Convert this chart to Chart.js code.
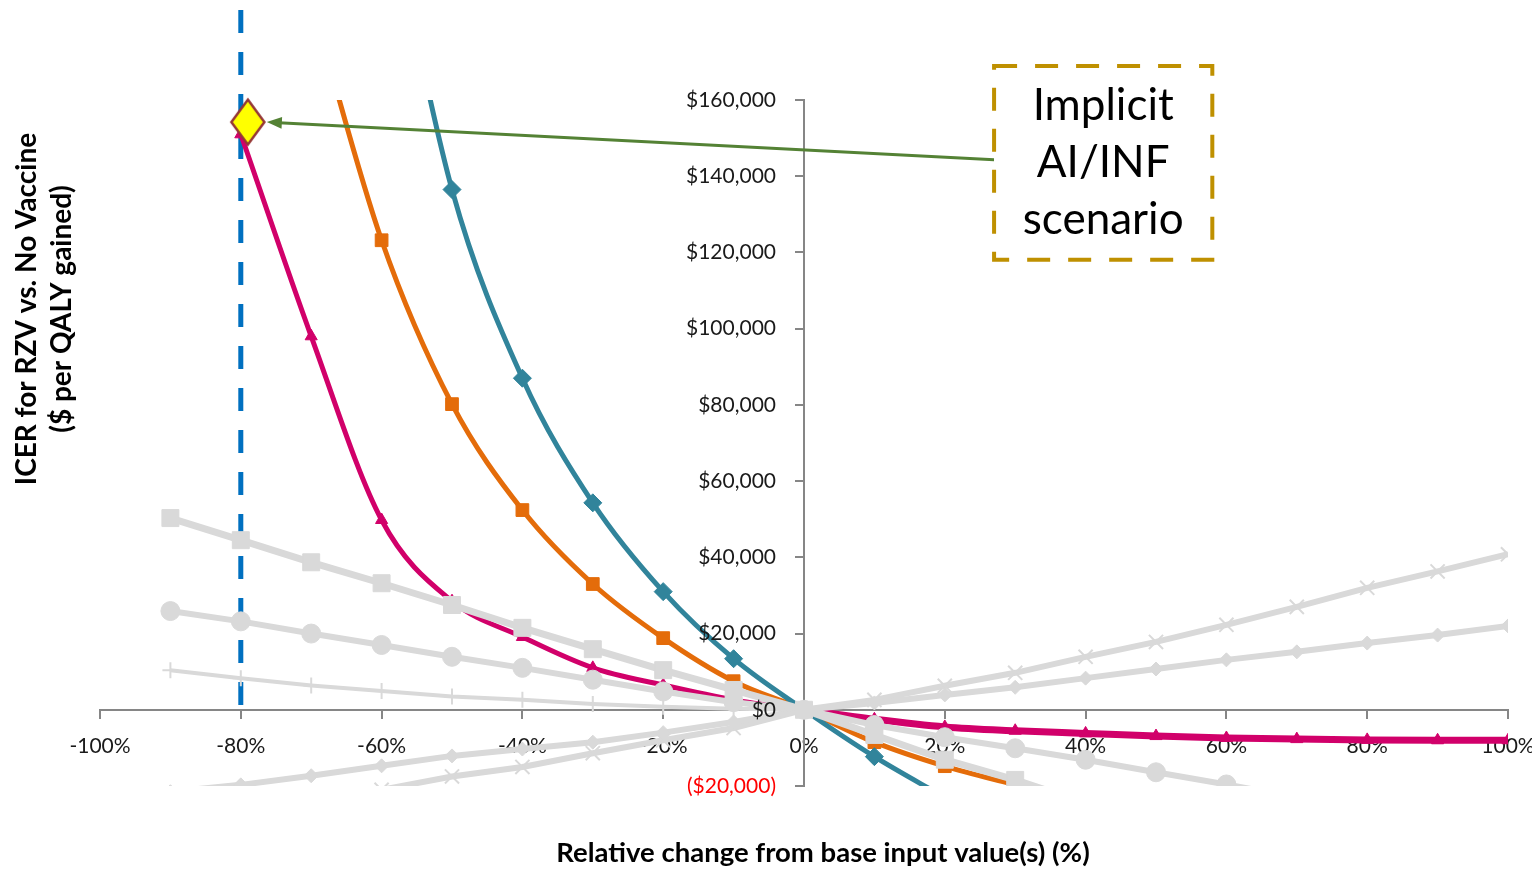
<!DOCTYPE html>
<html>
<head>
<meta charset="utf-8">
<title>ICER sensitivity</title>
<script src="https://cdn.jsdelivr.net/npm/chart.js@4.4.1/dist/chart.umd.min.js"></script>
<style>
  html, body { margin: 0; padding: 0; background: #fff; }
  #wrap { position: relative; width: 1532px; height: 869px; }
</style>
</head>
<body>
<div id="wrap"><canvas id="icerChart"></canvas></div>
<script>
// Relative change (%) for every series point
const changePct = [-90, -80, -70, -60, -50, -40, -30, -20, -10, 0, 10, 20, 30, 40, 50, 60, 70, 80, 90, 100];

// Coloured (smoothed) series, ICER in $ per QALY
const magentaIcer = [null, 151000, 98000, 49800, 28500, 19100, 11000, 6500, 2600, 0, -2500, -4500, -5500, -6200, -6900, -7400, -7700, -7900, -8000, -8000];
const orangeIcer  = [null, null, 186000, 123200, 80200, 52400, 33000, 18800, 7500, 0, -8500, -14800, -19700, -24500, null, null, null, null, null, null];
const tealIcer    = [null, null, null, 220000, 136500, 87000, 54300, 31000, 13400, 0, -12300, -23000, null, null, null, null, null, null, null, null];

// Grey (straight) series
const graySquareIcer  = [50300, 44500, 38700, 33200, 27500, 21500, 15900, 10400, 5200, 0, -6600, -13100, -18400, -24500, null, null, null, null, null, null];
const grayCircleIcer  = [25900, 23200, 20000, 17000, 13900, 11000, 7900, 4800, 2000, 0, -4000, -7200, -10100, -13100, -16400, -19600, -23000, null, null, null];
const grayPlusIcer    = [10400, 8300, 6400, 4900, 3500, 2600, 1500, 800, 300, 0, null, null, null, null, null, null, null, null, null, null];
const grayDiamondIcer = [-21500, -19700, -17300, -14700, -12100, -10300, -8500, -6000, -3200, 0, 1800, 3900, 5900, 8300, 10700, 13100, 15200, 17500, 19600, 22000];
const grayCrossIcer   = [null, null, null, -21000, -17500, -15000, -11400, -8000, -4800, 0, 2600, 6300, 9700, 13900, 17800, 22300, 27000, 32000, 36300, 40800];

// Implicit AI/INF scenario point and the -80% reference line
const implicitPct = [-79];
const implicitIcer = [154200];
const refLinePct = [-80, -80];
const refLineIcer = [183600, 0];

// Axis ticks
const xTickMin = -100, xTickMax = 100, xTickStep = 20;
const yTickMin = -20000, yTickMax = 160000, yTickStep = 20000;

// Callout (data units)
const calloutLines = ['Implicit', 'AI/INF', 'scenario'];
const calloutBox = { x0: 27.0, x1: 58.0, y0: 168900, y1: 118100 };
const arrowFrom = { x: 27.0, y: 144300 };
const arrowTo = { x: -76.3, y: 154200 };

const FONT = 'Lato, "Open Sans", sans-serif';
const GRAY = '#d9d9d9';

const toPoints = (xs, ys) => xs.map((x, i) => ({ x: x, y: ys[i] }));

const fmtDollar = (v) => v < 0
    ? '($' + Math.abs(v).toLocaleString('en-US') + ')'
    : '$' + v.toLocaleString('en-US');

function makeDiamond(w, h, fill, stroke, lw) {
    const c = document.createElement('canvas');
    c.width = w + lw * 2;
    c.height = h + lw * 2;
    const g = c.getContext('2d');
    const cx = c.width / 2, cy = c.height / 2;
    g.beginPath();
    g.moveTo(cx, lw);
    g.lineTo(c.width - lw, cy);
    g.lineTo(cx, c.height - lw);
    g.lineTo(lw, cy);
    g.closePath();
    g.fillStyle = fill;
    g.fill();
    g.lineWidth = lw;
    g.strokeStyle = stroke;
    g.stroke();
    return c;
}

function grayLine(label, data, style, radius, width, pointWidth) {
    return {
        label: label,
        data: toPoints(changePct, data),
        borderColor: GRAY,
        backgroundColor: GRAY,
        borderWidth: width,
        pointStyle: style,
        pointRadius: radius,
        pointBackgroundColor: GRAY,
        pointBorderColor: GRAY,
        pointBorderWidth: pointWidth,
        tension: 0,
        order: 1
    };
}

function colorLine(label, data, color, style, radius, width) {
    return {
        label: label,
        data: toPoints(changePct, data),
        borderColor: color,
        backgroundColor: color,
        borderWidth: width,
        pointStyle: style,
        pointRadius: radius,
        pointBackgroundColor: color,
        pointBorderColor: color,
        pointBorderWidth: 1,
        cubicInterpolationMode: 'monotone',
        order: 2
    };
}

// y tick labels (left of the centred axis), axis titles, callout box and arrow
const decorPlugin = {
    id: 'decor',
    afterDraw(chart) {
        const { ctx, scales: { x, y } } = chart;
        ctx.save();

        // y tick labels
        const axisX = x.getPixelForValue(0);
        ctx.font = '21px ' + FONT;
        ctx.textAlign = 'right';
        ctx.textBaseline = 'middle';
        y.ticks.forEach((t) => {
            ctx.fillStyle = t.value < 0 ? '#ff0000' : '#1a1a1a';
            ctx.fillText(fmtDollar(t.value), axisX - 28, y.getPixelForValue(t.value));
        });

        // y axis title (two lines, rotated)
        ctx.fillStyle = '#000';
        ctx.textAlign = 'center';
        ctx.font = 'bold 28px ' + FONT;
        ctx.save();
        ctx.translate(27, 309);
        ctx.rotate(-Math.PI / 2);
        ctx.fillText('ICER for RZV vs. No Vaccine', 0, 0);
        ctx.fillText('($ per QALY gained)', 0, 35);
        ctx.restore();

        // x axis title
        ctx.font = 'bold 27.5px ' + FONT;
        ctx.fillText('Relative change from base input value(s) (%)', 823, 853);

        // arrow
        const ax0 = x.getPixelForValue(arrowFrom.x), ay0 = y.getPixelForValue(arrowFrom.y);
        const ax1 = x.getPixelForValue(arrowTo.x), ay1 = y.getPixelForValue(arrowTo.y);
        const ang = Math.atan2(ay1 - ay0, ax1 - ax0);
        const head = 15;
        ctx.strokeStyle = '#548235';
        ctx.fillStyle = '#548235';
        ctx.lineWidth = 3;
        ctx.beginPath();
        ctx.moveTo(ax0, ay0);
        ctx.lineTo(ax1 - Math.cos(ang) * head * 0.8, ay1 - Math.sin(ang) * head * 0.8);
        ctx.stroke();
        ctx.beginPath();
        ctx.moveTo(ax1, ay1);
        ctx.lineTo(ax1 - Math.cos(ang) * head - Math.sin(ang) * 6, ay1 - Math.sin(ang) * head + Math.cos(ang) * 6);
        ctx.lineTo(ax1 - Math.cos(ang) * head + Math.sin(ang) * 6, ay1 - Math.sin(ang) * head - Math.cos(ang) * 6);
        ctx.closePath();
        ctx.fill();

        // callout box
        const bx0 = x.getPixelForValue(calloutBox.x0), bx1 = x.getPixelForValue(calloutBox.x1);
        const by0 = y.getPixelForValue(calloutBox.y0), by1 = y.getPixelForValue(calloutBox.y1);
        ctx.fillStyle = '#fff';
        ctx.fillRect(bx0, by0, bx1 - bx0, by1 - by0);
        ctx.strokeStyle = '#bf9000';
        ctx.lineWidth = 4;
        ctx.setLineDash([23, 18]);
        ctx.strokeRect(bx0, by0, bx1 - bx0, by1 - by0);
        ctx.setLineDash([]);

        ctx.fillStyle = '#000';
        ctx.font = '44px ' + FONT;
        const cx = (bx0 + bx1) / 2;
        const lineGap = 57;
        const cy = (by0 + by1) / 2 - lineGap;
        calloutLines.forEach((t, i) => ctx.fillText(t, cx, cy + i * lineGap));

        ctx.restore();
    }
};

const ctx = document.getElementById('icerChart').getContext('2d');
new Chart(ctx, {
    type: 'line',
    data: {
        datasets: [
            {
                label: 'Implicit AI/INF scenario',
                data: toPoints(implicitPct, implicitIcer),
                showLine: false,
                pointStyle: makeDiamond(33, 45, '#ffff00', '#953735', 2.5),
                pointRadius: 18,
                clip: false,
                order: 0
            },
            grayLine('Gray squares', graySquareIcer, 'rect', 12, 7, 1),
            grayLine('Gray circles', grayCircleIcer, 'circle', 9.5, 6, 1),
            grayLine('Gray plus', grayPlusIcer, 'cross', 8, 4, 2),
            grayLine('Gray diamonds', grayDiamondIcer, 'rectRot', 7, 6, 1),
            grayLine('Gray crosses', grayCrossIcer, 'crossRot', 10, 6, 2),
            colorLine('Teal', tealIcer, '#31849b', 'rectRot', 9, 5),
            colorLine('Orange', orangeIcer, '#e46c0a', 'rect', 9, 5),
            Object.assign(colorLine('Magenta', magentaIcer, '#d1006a', 'triangle', 7, 5), {
                segment: { borderWidth: (c) => c.p0.parsed.x >= 0 ? 7 : 5 }
            }),
            {
                label: '-80% reference',
                data: toPoints(refLinePct, refLineIcer),
                borderColor: '#0070c0',
                borderWidth: 5,
                borderDash: [23, 19],
                borderCapStyle: 'butt',
                pointRadius: 0,
                clip: false,
                order: 3
            }
        ]
    },
    options: {
        responsive: true,
        maintainAspectRatio: false,
        animation: false,
        layout: { padding: { left: 100, right: 24, top: 100, bottom: 83 } },
        plugins: {
            legend: { display: false },
            tooltip: { enabled: false }
        },
        scales: {
            x: {
                type: 'linear',
                position: { y: 0 },
                min: xTickMin,
                max: xTickMax,
                z: 1,
                afterFit: (s) => { s.paddingLeft = 0; s.paddingRight = 0; },
                grid: { drawOnChartArea: false, drawTicks: true, tickLength: 8, color: '#868686', lineWidth: 2 },
                border: { display: true, color: '#868686', width: 2 },
                ticks: {
                    stepSize: xTickStep,
                    padding: 16,
                    color: '#1a1a1a',
                    font: { family: FONT, size: 21 },
                    maxRotation: 0,
                    callback: (v) => v + '%'
                }
            },
            y: {
                type: 'linear',
                position: { x: 0 },
                min: yTickMin,
                max: yTickMax,
                z: 1,
                grid: { drawOnChartArea: false, drawTicks: true, tickLength: 8, color: '#868686', lineWidth: 2 },
                border: { display: true, color: '#868686', width: 2 },
                ticks: {
                    stepSize: yTickStep,
                    display: false
                }
            }
        }
    },
    plugins: [decorPlugin]
});
</script>
</body>
</html>
